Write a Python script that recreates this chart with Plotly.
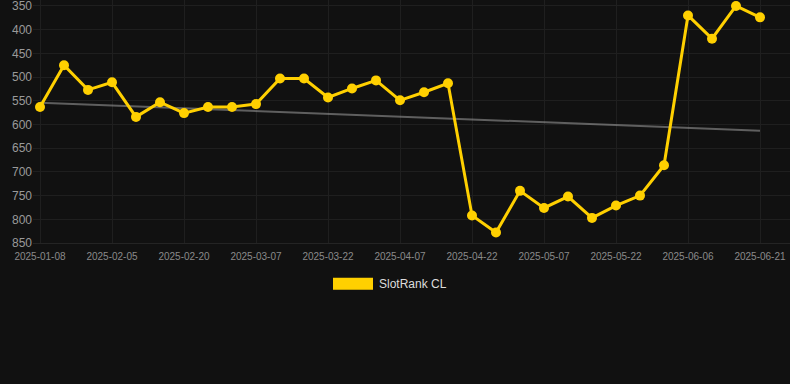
import plotly.graph_objects as go

dates = ["2025-01-08", "2025-01-26", "2025-01-31", "2025-02-05", "2025-02-10", "2025-02-15",
         "2025-02-20", "2025-02-25", "2025-03-02", "2025-03-07", "2025-03-12", "2025-03-17",
         "2025-03-22", "2025-03-27", "2025-04-02", "2025-04-07", "2025-04-12", "2025-04-17",
         "2025-04-22", "2025-04-27", "2025-05-02", "2025-05-07", "2025-05-12", "2025-05-17",
         "2025-05-22", "2025-05-27", "2025-06-01", "2025-06-06", "2025-06-11", "2025-06-16",
         "2025-06-21"]
ranks = [563, 475, 527, 511, 584, 553, 576, 563, 563, 557, 503, 503, 543, 524, 507, 549,
         532, 513, 792, 828, 740, 776, 752, 797, 771, 750, 686, 370, 419, 350, 374]
trend_dates = [dates[0], dates[-1]]
trend_values = [554, 613]
tick_labels = dates[::3]
y_ticks = [350, 400, 450, 500, 550, 600, 650, 700, 750, 800, 850]

GOLD = "#FFD000"
BG = "#111111"
GRID = "#1f1f1f"

fig = go.Figure()
fig.add_trace(go.Scatter(
    x=trend_dates, y=trend_values, mode="lines",
    line=dict(color="rgba(160,160,160,0.55)", width=2),
    showlegend=False, hoverinfo="skip"))
fig.add_trace(go.Scatter(
    x=dates, y=ranks, mode="lines+markers", name="SlotRank CL",
    line=dict(color=GOLD, width=3),
    marker=dict(color=GOLD, size=10),
    cliponaxis=False,
    showlegend=False))

fig.update_layout(
    width=790, height=384,
    paper_bgcolor=BG, plot_bgcolor=BG,
    margin=dict(l=33, r=0, t=0, b=140.7),
    font=dict(family="Liberation Sans, Arial, sans-serif"),
    xaxis=dict(
        type="category", categoryorder="array", categoryarray=dates,
        range=[-7/24, 750/24],
        tickmode="array", tickvals=tick_labels, ticktext=tick_labels,
        tickfont=dict(size=10, color="#8a8a8a"),
        showgrid=True, gridcolor=GRID, gridwidth=1,
        zeroline=False, showline=True, linecolor="#242424", linewidth=1,
        ticks="", ticklabelstandoff=4,
        ticklabeloverflow="allow",
    ),
    yaxis=dict(
        range=[850, 337.4],
        tickmode="array", tickvals=y_ticks,
        tickfont=dict(size=12, color="#9a9a9a"),
        showgrid=True, gridcolor=GRID, gridwidth=1,
        zeroline=False, showline=False, ticks="",
        ticklabeloverflow="allow",
    ),
    shapes=[dict(type="rect", xref="paper", yref="paper",
                 x0=(333-33)/757, x1=(373-33)/757,
                 y0=(384-140.7-290)/243.3, y1=(384-140.7-278)/243.3,
                 fillcolor=GOLD, line=dict(width=0))],
    annotations=[dict(text="SlotRank CL", xref="paper", yref="paper",
                      x=(377-33)/757, y=(384-140.7-284)/243.3,
                      xanchor="left", yanchor="middle", showarrow=False,
                      font=dict(size=12, color="#dddddd"))],
)

fig.write_html("out.html", config={"displayModeBar": False},
               post_script="document.body.style.margin='0';document.body.style.background='#111111';")
